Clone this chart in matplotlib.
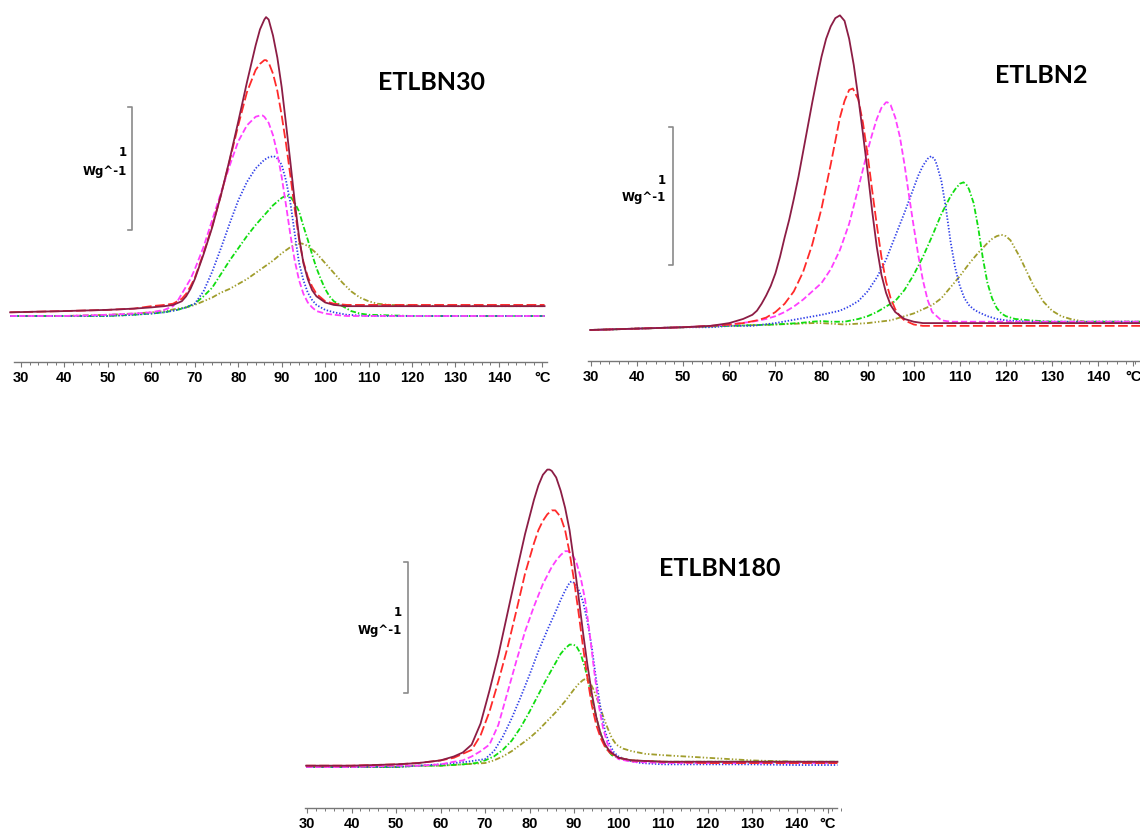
import matplotlib.pyplot as plt

plt.rcParams['lines.scale_dashes'] = False

# ======= ETLBN30 : temperature [°C] / heat flow [W/g] (relative) =======
n30_brown_t = [27.5, 40, 50, 56, 60, 63, 65, 67, 68, 69, 70, 72, 74, 76, 78, 80, 82, 84, 85, 86, 86.4, 87, 88, 89, 90,
               91, 92, 93, 94, 95, 96, 97, 98, 100, 102, 105, 110, 120, 130, 140, 150.5]
n30_brown_w = [0.03, 0.04, 0.05, 0.06, 0.07, 0.08, 0.09, 0.12, 0.16, 0.22, 0.30, 0.50, 0.72, 0.98, 1.27, 1.58, 1.90,
               2.20, 2.33, 2.41, 2.43, 2.41, 2.28, 2.10, 1.86, 1.56, 1.25, 0.93, 0.64, 0.43, 0.30, 0.21, 0.16, 0.11,
               0.09, 0.08, 0.08, 0.08, 0.08, 0.08, 0.08]
n30_red_t = n30_brown_t
n30_red_w = [0.03, 0.04, 0.05, 0.06, 0.08, 0.09, 0.10, 0.14, 0.18, 0.24, 0.31, 0.51, 0.73, 0.98, 1.26, 1.55, 1.82,
             2.00, 2.05, 2.08, 2.08, 2.06, 1.97, 1.83, 1.63, 1.40, 1.14, 0.87, 0.62, 0.44, 0.32, 0.24, 0.18, 0.12,
             0.10, 0.09, 0.09, 0.09, 0.09, 0.09, 0.09]
n30_magenta_t = [27.5, 40, 50, 56, 60, 63, 65, 66, 67, 68, 69, 70, 72, 74, 76, 78, 80, 82, 84, 85, 85.6, 86, 87, 88,
                 89, 90, 91, 92, 93, 94, 95, 96, 97, 98, 100, 102, 105, 110, 120, 130, 140, 150.5]
n30_magenta_w = [0.0, 0.0, 0.01, 0.02, 0.03, 0.05, 0.08, 0.12, 0.18, 0.24, 0.30, 0.38, 0.56, 0.78, 1.00, 1.22, 1.42,
                 1.55, 1.62, 1.63, 1.63, 1.62, 1.57, 1.47, 1.32, 1.13, 0.90, 0.66, 0.45, 0.29, 0.18, 0.11, 0.07,
                 0.04, 0.02, 0.01, 0.0, 0.0, 0.0, 0.0, 0.0, 0.0]
n30_blue_t = [27.5, 40, 50, 56, 60, 63, 66, 68, 70, 72, 74, 76, 78, 80, 82, 84, 86, 87, 88.2, 89, 90, 91, 92, 93, 94,
              95, 96, 97, 98, 99, 100, 102, 105, 110, 120, 130, 140, 150.5]
n30_blue_w = [0.0, 0.0, 0.0, 0.01, 0.02, 0.03, 0.05, 0.07, 0.10, 0.20, 0.36, 0.55, 0.75, 0.94, 1.09, 1.20, 1.27, 1.29,
              1.30, 1.28, 1.23, 1.10, 0.92, 0.67, 0.43, 0.29, 0.19, 0.13, 0.09, 0.07, 0.05, 0.03, 0.01, 0.0, 0.0,
              0.0, 0.0, 0.0]
n30_green_t = [27.5, 40, 50, 56, 60, 63, 66, 68, 70, 72, 74, 76, 78, 80, 82, 84, 86, 88, 90, 91.1, 92, 93, 94, 95,
               96, 97, 98, 99, 100, 101, 102, 104, 106, 108, 110, 120, 130, 140, 150.5]
n30_green_w = [0.0, 0.0, 0.0, 0.01, 0.02, 0.03, 0.05, 0.07, 0.10, 0.16, 0.23, 0.34, 0.45, 0.55, 0.65, 0.74, 0.82,
               0.90, 0.96, 0.98, 0.97, 0.92, 0.85, 0.73, 0.62, 0.50, 0.39, 0.30, 0.22, 0.16, 0.12, 0.08, 0.04, 0.02,
               0.01, 0.0, 0.0, 0.0, 0.0]
n30_olive_t = [27.5, 40, 50, 56, 60, 63, 66, 68, 70, 72, 74, 76, 78, 80, 82, 84, 86, 88, 90, 92, 93, 94.6, 96, 97,
               98, 100, 102, 104, 106, 108, 110, 112, 115, 120, 130, 140, 150.5]
n30_olive_w = [0.0, 0.0, 0.01, 0.02, 0.03, 0.04, 0.06, 0.07, 0.09, 0.12, 0.15, 0.19, 0.22, 0.26, 0.30, 0.35, 0.40,
               0.45, 0.51, 0.56, 0.58, 0.59, 0.57, 0.54, 0.51, 0.43, 0.35, 0.27, 0.20, 0.15, 0.12, 0.10, 0.09, 0.085,
               0.08, 0.08, 0.08]

# ======= ETLBN2 =======
n2_brown_t = [29.8, 40, 50, 56, 60, 63, 65, 66, 67, 68, 69, 70, 71, 72, 73, 74, 75, 76, 77, 78, 79, 80, 81, 82, 83,
              84, 85, 86, 87, 88, 89, 90, 91, 92, 93, 94, 95, 96, 98, 100, 102, 105, 110, 120, 130, 140, 151]
n2_brown_w = [0.0, 0.01, 0.02, 0.03, 0.05, 0.08, 0.11, 0.14, 0.19, 0.25, 0.32, 0.41, 0.53, 0.67, 0.80, 0.95, 1.11,
              1.29, 1.47, 1.65, 1.82, 1.98, 2.11, 2.20, 2.26, 2.28, 2.24, 2.11, 1.92, 1.68, 1.42, 1.15, 0.86, 0.60,
              0.40, 0.27, 0.18, 0.13, 0.08, 0.06, 0.05, 0.05, 0.05, 0.05, 0.05, 0.05, 0.05]
n2_red_t = [29.8, 40, 50, 56, 60, 63, 66, 68, 70, 72, 74, 76, 78, 80, 82, 84, 85, 86, 86.8, 88, 89, 90, 91, 92, 93,
            94, 95, 96, 97, 98, 100, 102, 105, 110, 120, 130, 140, 151]
n2_red_w = [0.0, 0.01, 0.02, 0.03, 0.04, 0.05, 0.07, 0.09, 0.13, 0.19, 0.28, 0.42, 0.62, 0.88, 1.20, 1.54, 1.66, 1.74,
            1.75, 1.67, 1.50, 1.27, 1.01, 0.76, 0.53, 0.35, 0.23, 0.15, 0.10, 0.07, 0.04, 0.03, 0.03, 0.03, 0.03,
            0.03, 0.03, 0.03]
n2_magenta_t = [29.8, 40, 50, 56, 60, 65, 68, 70, 72, 74, 76, 78, 80, 82, 84, 86, 88, 90, 91, 92, 93, 94, 94.3, 95,
                96, 97, 98, 99, 100, 101, 102, 103, 104, 106, 108, 110, 120, 130, 140, 151]
n2_magenta_w = [0.0, 0.01, 0.02, 0.03, 0.04, 0.06, 0.08, 0.10, 0.13, 0.17, 0.22, 0.28, 0.34, 0.44, 0.58, 0.77, 1.03,
                1.30, 1.42, 1.53, 1.61, 1.65, 1.65, 1.63, 1.54, 1.40, 1.20, 0.97, 0.75, 0.54, 0.36, 0.22, 0.13,
                0.07, 0.06, 0.06, 0.06, 0.06, 0.06, 0.06]
n2_blue_t = [29.8, 40, 50, 56, 60, 65, 70, 75, 80, 84, 86, 88, 90, 92, 94, 96, 98, 100, 101, 102, 103, 103.8, 104.5,
             105, 106, 107, 108, 109, 110, 111, 112, 113, 114, 116, 118, 120, 125, 130, 140, 151]
n2_blue_w = [0.0, 0.01, 0.02, 0.02, 0.03, 0.03, 0.05, 0.08, 0.11, 0.14, 0.17, 0.21, 0.28, 0.38, 0.51, 0.68, 0.85,
             1.03, 1.12, 1.19, 1.24, 1.26, 1.24, 1.20, 1.08, 0.88, 0.64, 0.45, 0.32, 0.23, 0.18, 0.15, 0.13, 0.10,
             0.08, 0.07, 0.06, 0.06, 0.06, 0.06]
n2_green_t = [29.8, 40, 50, 60, 70, 75, 78, 80, 82, 85, 88, 90, 92, 94, 96, 98, 100, 102, 104, 106, 108, 109, 110,
              110.8, 111.5, 112, 113, 114, 115, 116, 117, 118, 119, 120, 122, 125, 130, 140, 151]
n2_green_w = [0.0, 0.01, 0.02, 0.03, 0.04, 0.05, 0.06, 0.065, 0.06, 0.06, 0.08, 0.10, 0.13, 0.17, 0.21, 0.29, 0.40,
              0.53, 0.68, 0.84, 0.97, 1.02, 1.06, 1.07, 1.05, 1.02, 0.92, 0.74, 0.52, 0.34, 0.23, 0.16, 0.12, 0.10,
              0.08, 0.07, 0.06, 0.06, 0.06]
n2_olive_t = [29.8, 40, 50, 60, 70, 78, 80, 85, 90, 95, 98, 100, 102, 104, 106, 108, 110, 112, 114, 116, 117, 118,
              119, 120, 121, 122, 123, 124, 125, 126, 127, 128, 130, 132, 134, 137, 140, 151]
n2_olive_w = [0.0, 0.01, 0.02, 0.03, 0.04, 0.05, 0.05, 0.04, 0.05, 0.07, 0.10, 0.12, 0.15, 0.18, 0.23, 0.31, 0.39,
              0.48, 0.56, 0.63, 0.66, 0.68, 0.69, 0.68, 0.65, 0.59, 0.53, 0.46, 0.39, 0.32, 0.27, 0.21, 0.14, 0.10,
              0.08, 0.06, 0.06, 0.06]

# ======= ETLBN180 =======
n180_brown_t = [29.8, 40, 50, 55, 60, 63, 65, 67, 69, 71, 73, 75, 77, 79, 81, 82, 83, 84, 84.5, 85, 86, 87, 88, 89,
                90, 91, 92, 93, 94, 95, 96, 97, 98, 100, 103, 110, 120, 130, 140, 149.2]
n180_brown_w = [0.01, 0.01, 0.02, 0.03, 0.05, 0.08, 0.11, 0.17, 0.33, 0.58, 0.85, 1.16, 1.47, 1.77, 2.03, 2.14, 2.22,
                2.26, 2.26, 2.25, 2.20, 2.10, 1.97, 1.80, 1.56, 1.30, 1.03, 0.78, 0.56, 0.38, 0.25, 0.17, 0.12,
                0.07, 0.05, 0.04, 0.04, 0.04, 0.04, 0.04]
n180_red_t = [29.8, 40, 50, 55, 60, 63, 65, 67, 69, 71, 73, 75, 77, 79, 81, 82, 83, 84, 85, 85.8, 87, 88, 89, 90, 91,
              92, 93, 94, 95, 96, 97, 98, 100, 103, 110, 120, 130, 140, 149.2]
n180_red_w = [0.01, 0.01, 0.02, 0.03, 0.05, 0.07, 0.10, 0.13, 0.24, 0.42, 0.65, 0.90, 1.18, 1.47, 1.70, 1.80, 1.87,
              1.92, 1.95, 1.95, 1.90, 1.80, 1.63, 1.42, 1.18, 0.92, 0.68, 0.47, 0.32, 0.22, 0.15, 0.11, 0.07, 0.05,
              0.04, 0.03, 0.03, 0.03, 0.03]
n180_magenta_t = [29.8, 40, 50, 55, 60, 63, 65, 67, 69, 71, 73, 75, 77, 79, 81, 83, 85, 86, 87, 88, 88.6, 89.5, 90.5,
                  91.5, 92.5, 93.5, 94.5, 95.5, 96.5, 97.5, 98.5, 100, 103, 110, 120, 130, 140, 149.2]
n180_magenta_w = [0.0, 0.0, 0.01, 0.01, 0.02, 0.04, 0.05, 0.08, 0.12, 0.17, 0.32, 0.56, 0.80, 1.03, 1.22, 1.39, 1.52,
                  1.57, 1.61, 1.64, 1.64, 1.62, 1.56, 1.44, 1.27, 1.02, 0.74, 0.48, 0.30, 0.18, 0.11, 0.06, 0.04,
                  0.03, 0.03, 0.03, 0.03, 0.03]
n180_blue_t = [29.8, 40, 50, 55, 60, 63, 66, 68, 70, 72, 74, 76, 78, 80, 82, 84, 86, 87, 88, 89, 89.4, 90, 91, 92, 93,
               94, 95, 96, 97, 98, 99, 100, 102, 105, 110, 120, 130, 140, 149.2]
n180_blue_w = [0.0, 0.0, 0.0, 0.01, 0.02, 0.03, 0.04, 0.05, 0.06, 0.12, 0.23, 0.37, 0.53, 0.70, 0.88, 1.04, 1.19,
               1.27, 1.34, 1.40, 1.41, 1.40, 1.35, 1.26, 1.11, 0.91, 0.66, 0.44, 0.27, 0.17, 0.11, 0.08, 0.05, 0.03,
               0.02, 0.02, 0.02, 0.015, 0.015]
n180_green_t = [29.8, 40, 50, 55, 60, 65, 68, 70, 72, 74, 76, 78, 80, 82, 84, 86, 87, 88, 89, 89.8, 90.5, 91.5, 92.5,
                93.5, 94.5, 95.5, 96.5, 97.5, 98.5, 100, 103, 110, 120, 130, 140, 149.2]
n180_green_w = [0.0, 0.0, 0.0, 0.01, 0.01, 0.02, 0.03, 0.05, 0.08, 0.13, 0.20, 0.30, 0.42, 0.55, 0.68, 0.80, 0.86,
                0.90, 0.93, 0.93, 0.92, 0.86, 0.75, 0.61, 0.45, 0.31, 0.20, 0.13, 0.09, 0.07, 0.05, 0.04, 0.04,
                0.04, 0.04, 0.04]
n180_olive_t = [29.8, 40, 50, 55, 60, 65, 70, 72, 74, 76, 78, 80, 82, 84, 86, 88, 90, 91, 92, 92.6, 93.5, 94.5, 95.5,
                96.5, 97.5, 98.5, 99.5, 101, 103, 106, 110, 115, 120, 125, 130, 140, 149.2]
n180_olive_w = [0.0, 0.0, 0.0, 0.01, 0.01, 0.02, 0.03, 0.05, 0.08, 0.12, 0.17, 0.22, 0.28, 0.35, 0.42, 0.50, 0.59,
                0.63, 0.66, 0.67, 0.65, 0.58, 0.49, 0.39, 0.30, 0.22, 0.17, 0.14, 0.12, 0.10, 0.09, 0.08, 0.07,
                0.06, 0.05, 0.04, 0.03]

tick_temps = [30, 40, 50, 60, 70, 80, 90, 100, 110, 120, 130, 140]

# =====================================

W, H = 1140, 831

styles = {
    'olive': dict(color='#a09d2c', ls=(0, (4, 1.5, 1, 1.5, 1, 1.5))),
    'green': dict(color='#10dd10', ls=(0, (4, 1.5, 1, 1.5))),
    'blue': dict(color='#3040e8', ls=(0, (1, 1.3))),
    'magenta': dict(color='#ff40ff', ls=(0, (4.5, 2))),
    'red': dict(color='#ff2a2a', ls=(0, (7, 2.5))),
    'brown': dict(color='#8c1d45', ls='-'),
}


def draw_panel(fig, curves, title, px, xlim, ylim, spine, unit_pos, bar, title_px, label_px):
    # px = (pixel of 30 °C, px per °C, pixel of zero line, px per W/g)
    x30, kx, ybase, ky = px
    left = x30 + (xlim[0] - 30) * kx
    right = x30 + (xlim[1] - 30) * kx
    top = ybase - ylim[1] * ky
    bottom = ybase - ylim[0] * ky
    ax = fig.add_axes([left / W, 1 - bottom / H, (right - left) / W, (bottom - top) / H])
    ax.patch.set_alpha(0)

    for name in ['olive', 'green', 'blue', 'magenta', 'red', 'brown']:
        t, w = curves[name]
        ax.plot(t, w, lw=1.3, clip_on=False, **styles[name])

    ax.set_xlim(*xlim)
    ax.set_ylim(*ylim)
    for s in ['top', 'right', 'left']:
        ax.spines[s].set_visible(False)
    ax.spines['bottom'].set_color('#777777')
    ax.spines['bottom'].set_linewidth(1.0)
    ax.spines['bottom'].set_bounds(*spine)
    ax.set_yticks([])
    ax.set_xticks(tick_temps + [unit_pos])
    ax.set_xticklabels([str(v) for v in tick_temps] + ['°C'],
                       fontfamily='Liberation Sans', fontweight='bold', fontsize=10.5)
    ax.set_xticks(list(range(30, 151, 2)), minor=True)
    ax.tick_params(axis='x', which='major', direction='out', length=3.4, width=0.8,
                   color='#777777', pad=3.0)
    ax.tick_params(axis='x', which='minor', direction='out', length=2.2, width=0.7,
                   color='#777777')

    # 1 W/g scale bar
    bx, b0, b1, serif = bar
    ax.plot([bx - serif, bx, bx, bx - serif], [b1, b1, b0, b0], color='#8a8a8a', lw=1.2,
            clip_on=False)
    lx, ly1, ly2 = label_px
    fig.text(lx / W, 1 - ly1 / H, '1', ha='right', va='baseline', fontsize=8.5,
             fontweight='bold', family='DejaVu Sans')
    fig.text(lx / W, 1 - ly2 / H, 'Wg^-1', ha='right', va='baseline', fontsize=8.5,
             fontweight='bold', family='DejaVu Sans')

    fig.text(title_px[0] / W, 1 - title_px[1] / H, title, ha='center', va='baseline',
             fontsize=18, fontweight='bold', family=['Lato', 'DejaVu Sans'])
    return ax


fig = plt.figure(figsize=(W / 100, H / 100), dpi=100)

draw_panel(fig,
           {'brown': (n30_brown_t, n30_brown_w), 'red': (n30_red_t, n30_red_w),
            'magenta': (n30_magenta_t, n30_magenta_w), 'blue': (n30_blue_t, n30_blue_w),
            'green': (n30_green_t, n30_green_w), 'olive': (n30_olive_t, n30_olive_w)},
           'ETLBN30', (21, 4.345, 316, 123), (27.0, 152.0), (-0.374, 2.53),
           (28.4, 151.0), 150, (55.5, 0.70, 1.70, 0.9), (431.6, 90), (127, 155.7, 175))

draw_panel(fig,
           {'brown': (n2_brown_t, n2_brown_w), 'red': (n2_red_t, n2_red_w),
            'magenta': (n2_magenta_t, n2_magenta_w), 'blue': (n2_blue_t, n2_blue_w),
            'green': (n2_green_t, n2_green_w), 'olive': (n2_olive_t, n2_olive_w)},
           'ETLBN2', (591, 4.61, 330, 138), (28.0, 152.0), (-0.225, 2.36),
           (29.3, 152.0), 147.6, (47.8, 0.47, 1.47, 0.9), (1041, 83), (666, 184, 200.7))

draw_panel(fig,
           {'brown': (n180_brown_t, n180_brown_w), 'red': (n180_red_t, n180_red_w),
            'magenta': (n180_magenta_t, n180_magenta_w), 'blue': (n180_blue_t, n180_blue_w),
            'green': (n180_green_t, n180_green_w), 'olive': (n180_olive_t, n180_olive_w)},
           'ETLBN180', (307, 4.45, 767, 131.6), (28.0, 151.0), (-0.312, 2.36),
           (29.5, 149.2), 147, (52.8, 0.56, 1.56, 0.9), (720, 576), (402, 616, 634))

fig.savefig('out.png', dpi=100)
